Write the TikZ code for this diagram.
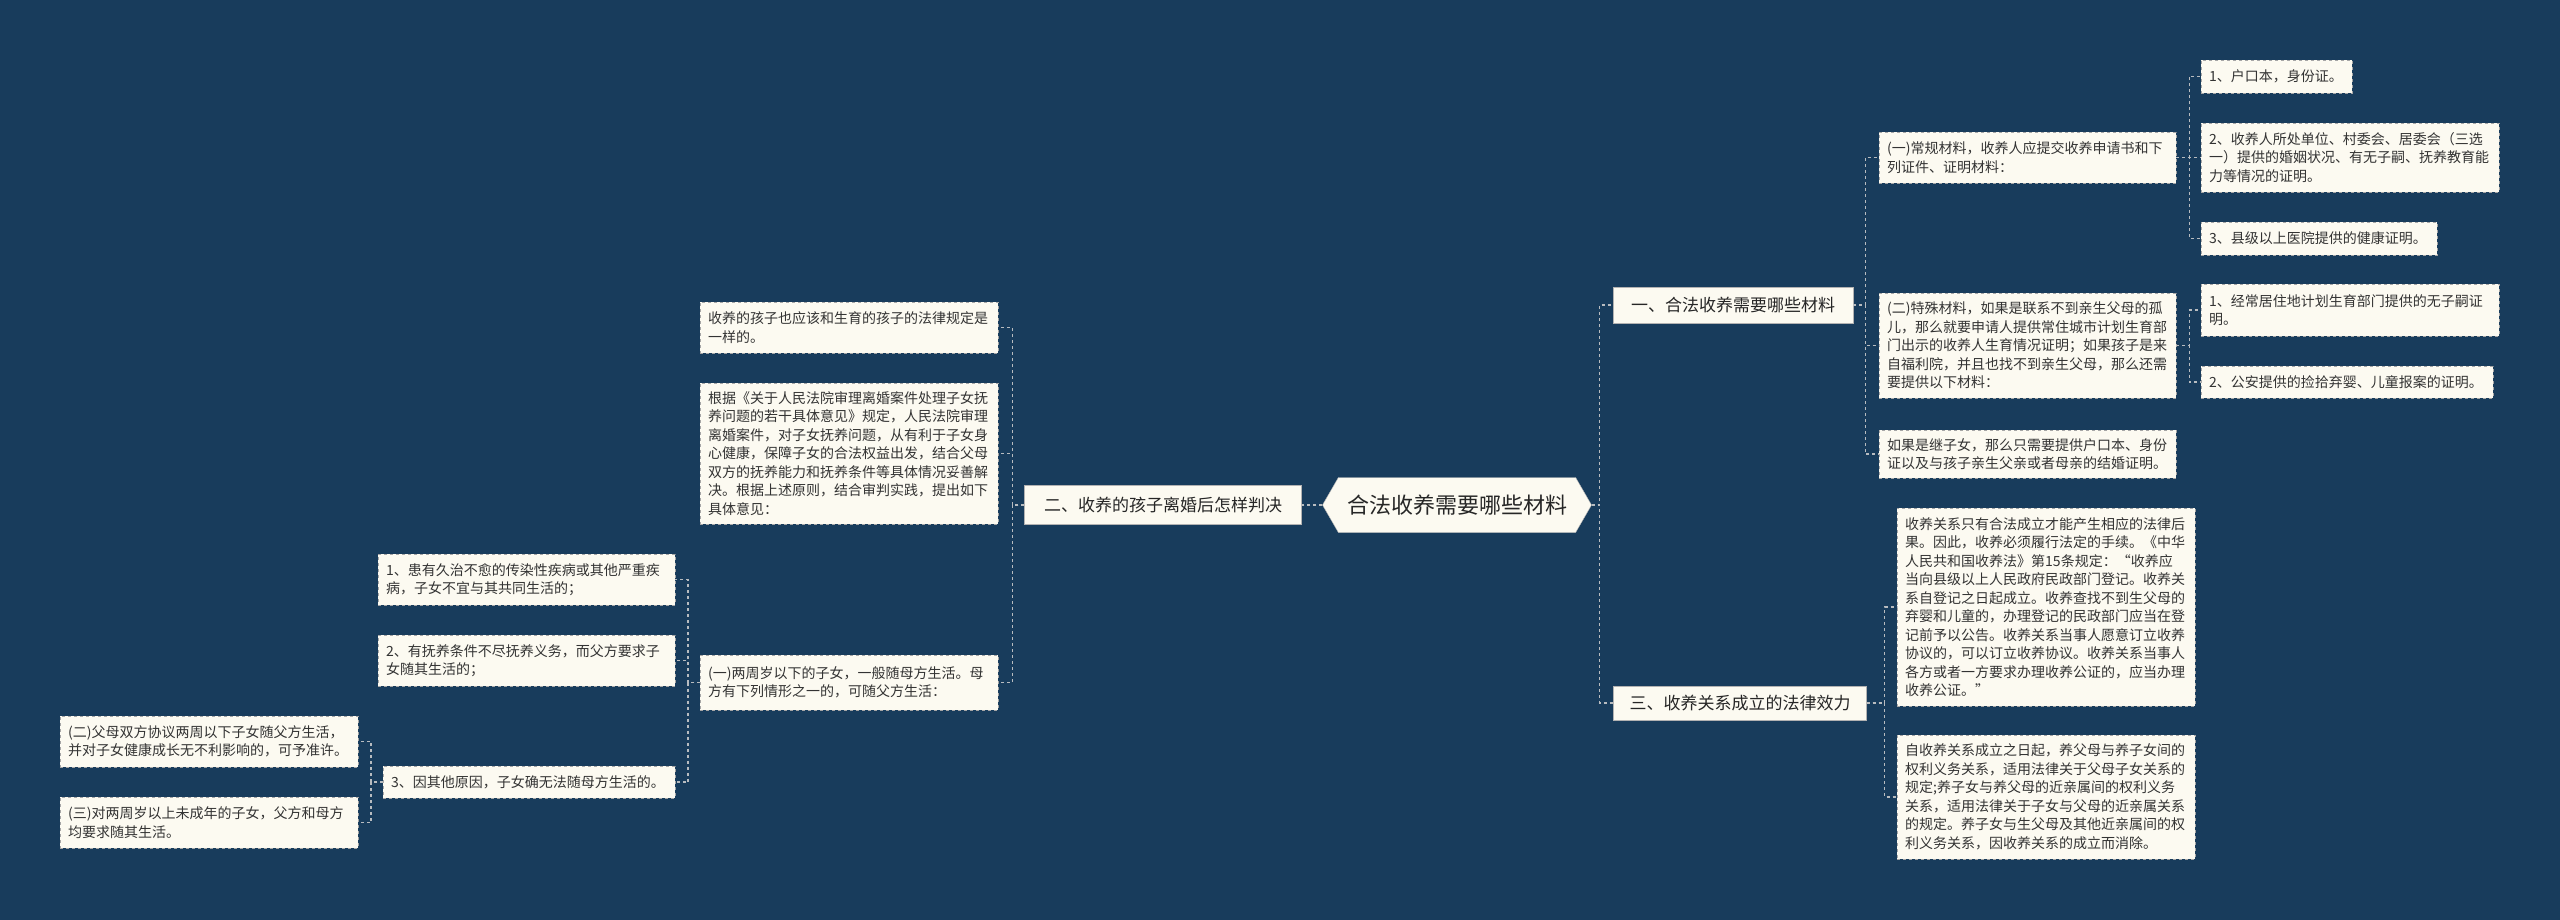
\documentclass[tikz,border=0pt]{standalone}
\usepackage{fontspec}
\setmainfont{Noto Sans CJK SC}
\usetikzlibrary{shapes.symbols}
\definecolor{bg}{HTML}{183C5C}
\definecolor{paper}{HTML}{FCFAF1}
\definecolor{edge}{HTML}{B8BCC0}
\begin{document}
\begin{tikzpicture}[x=1pt,y=-1pt,
  box/.style={draw=gray!70,dashed,fill=paper,anchor=west,align=left,inner xsep=8pt,inner ysep=0pt,text=black!80,font=\fontsize{14}{18.5}\selectfont},
  branch/.style={fill=paper,draw=gray!60,inner sep=6pt,font=\fontsize{17}{20}\selectfont,text=black!85},
  conn/.style={draw=edge,dashed,line width=1.3pt}]
\fill[bg] (0,0) rectangle (2560,920);
\useasboundingbox (0,0) rectangle (2560,920);
\node[signal,signal to=west and east,signal pointer angle=120,fill=paper,draw=gray!60,minimum width=269pt,minimum height=55pt,font=\fontsize{22}{24}\selectfont,text=black!85] (root) at (1457,505) {合法收养需要哪些材料};
\node[branch,minimum width=240pt,minimum height=36pt] (b1) at (1733,305) {一、合法收养需要哪些材料};
\node[branch,minimum width=253pt,minimum height=34pt] (b3) at (1740,703) {三、收养关系成立的法律效力};
\node[branch,minimum width=277pt,minimum height=39pt] (b2) at (1163,505) {二、收养的孩子离婚后怎样判决};
% right branch 1
\node[box,text width=281pt,minimum height=51pt] (r11) at (1879,157.5) {(一)常规材料，收养人应提交收养申请书和下\\列证件、证明材料：};
\node[box,text width=281pt,minimum height=105pt] (r12) at (1879,345.5) {(二)特殊材料，如果是联系不到亲生父母的孤\\儿，那么就要申请人提供常住城市计划生育部\\门出示的收养人生育情况证明；如果孩子是来\\自福利院，并且也找不到亲生父母，那么还需\\要提供以下材料：};
\node[box,text width=281pt,minimum height=48pt] (r13) at (1879,454) {如果是继子女，那么只需要提供户口本、身份\\证以及与孩子亲生父亲或者母亲的结婚证明。};
\node[box,text width=135pt,minimum height=33pt] (r111) at (2201,76.5) {1、户口本，身份证。};
\node[box,text width=282pt,minimum height=69pt] (r112) at (2201,157.5) {2、收养人所处单位、村委会、居委会（三选\\一）提供的婚姻状况、有无子嗣、抚养教育能\\力等情况的证明。};
\node[box,text width=220pt,minimum height=33pt] (r113) at (2201,238.5) {3、县级以上医院提供的健康证明。};
\node[box,text width=282pt,minimum height=52pt] (r121) at (2201,310) {1、经常居住地计划生育部门提供的无子嗣证\\明。};
\node[box,text width=276pt,minimum height=32pt] (r122) at (2201,382) {2、公安提供的捡拾弃婴、儿童报案的证明。};
% right branch 3
\node[box,text width=282pt,minimum height=198pt] (r31) at (1897,607) {收养关系只有合法成立才能产生相应的法律后\\果。因此，收养必须履行法定的手续。《中华\\人民共和国收养法》第15条规定：“收养应\\当向县级以上人民政府民政部门登记。收养关\\系自登记之日起成立。收养查找不到生父母的\\弃婴和儿童的，办理登记的民政部门应当在登\\记前予以公告。收养关系当事人愿意订立收养\\协议的，可以订立收养协议。收养关系当事人\\各方或者一方要求办理收养公证的，应当办理\\收养公证。”};
\node[box,text width=282pt,minimum height=124pt] (r32) at (1897,797) {自收养关系成立之日起，养父母与养子女间的\\权利义务关系，适用法律关于父母子女关系的\\规定;养子女与养父母的近亲属间的权利义务\\关系，适用法律关于子女与父母的近亲属关系\\的规定。养子女与生父母及其他近亲属间的权\\利义务关系，因收养关系的成立而消除。};
% left branch
\node[box,text width=282pt,minimum height=51pt] (l1) at (700,327.5) {收养的孩子也应该和生育的孩子的法律规定是\\一样的。};
\node[box,text width=282pt,minimum height=141pt] (l2) at (700,453.5) {根据《关于人民法院审理离婚案件处理子女抚\\养问题的若干具体意见》规定，人民法院审理\\离婚案件，对子女抚养问题，从有利于子女身\\心健康，保障子女的合法权益出发，结合父母\\双方的抚养能力和抚养条件等具体情况妥善解\\决。根据上述原则，结合审判实践，提出如下\\具体意见：};
\node[box,text width=282pt,minimum height=55pt] (l3) at (700,682.5) {(一)两周岁以下的子女，一般随母方生活。母\\方有下列情形之一的，可随父方生活：};
\node[box,text width=281pt,minimum height=51pt] (l31) at (378,579.5) {1、患有久治不愈的传染性疾病或其他严重疾\\病，子女不宜与其共同生活的；};
\node[box,text width=281pt,minimum height=51pt] (l32) at (378,660.5) {2、有抚养条件不尽抚养义务，而父方要求子\\女随其生活的；};
\node[box,text width=276pt,minimum height=32pt] (l33) at (383,782) {3、因其他原因，子女确无法随母方生活的。};
\node[box,text width=282pt,minimum height=51pt] (l331) at (60,741.5) {(二)父母双方协议两周以下子女随父方生活，\\并对子女健康成长无不利影响的，可予准许。};
\node[box,text width=282pt,minimum height=51pt] (l332) at (60,822.5) {(三)对两周岁以上未成年的子女，父方和母方\\均要求随其生活。};
% connectors
\foreach \c in {b1,b3} \draw[conn] (root.east) -- ++(8,0) |- (\c.west);
\draw[conn] (root.west) -- (b2.east);
\foreach \c in {r11,r12,r13} \draw[conn] (b1.east) -- ++(12,0) |- (\c.west);
\foreach \c in {r111,r112,r113} \draw[conn] (r11.east) -- ++(13,0) |- (\c.west);
\foreach \c in {r121,r122} \draw[conn] (r12.east) -- ++(13,0) |- (\c.west);
\foreach \c in {r31,r32} \draw[conn] (b3.east) -- ++(18,0) |- (\c.west);
\foreach \c in {l1,l2,l3} \draw[conn] (b2.west) -- ++(-12,0) |- (\c.east);
\foreach \c in {l31,l32,l33} \draw[conn] (l3.west) -- ++(-12,0) |- (\c.east);
\foreach \c in {l331,l332} \draw[conn] (l33.west) -- ++(-12,0) |- (\c.east);
\end{tikzpicture}
\end{document}
